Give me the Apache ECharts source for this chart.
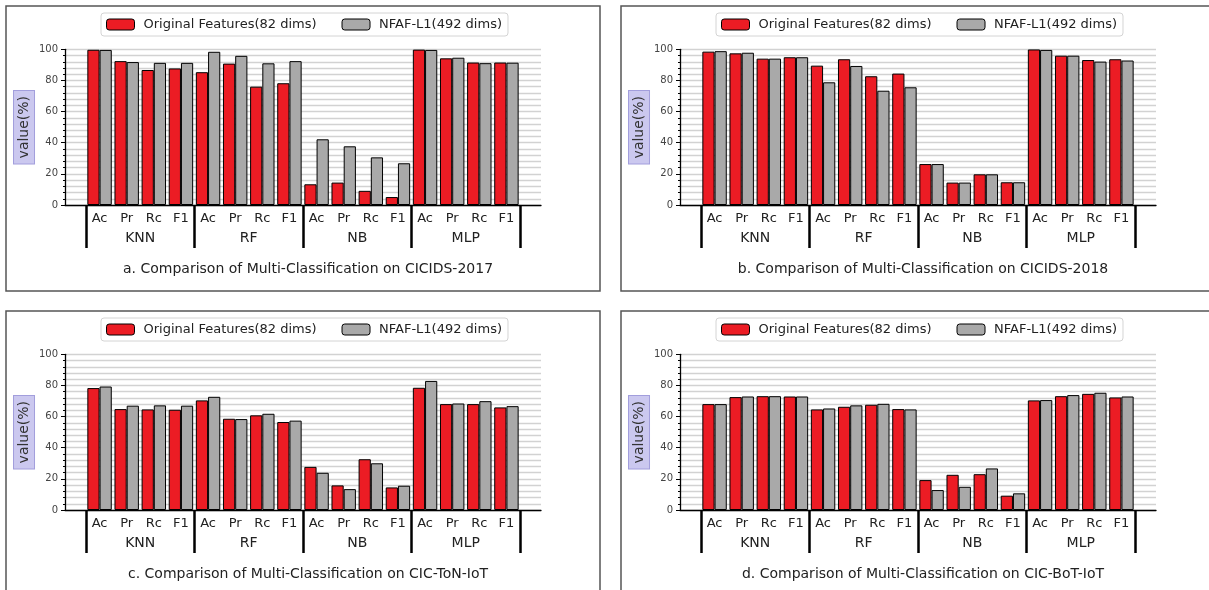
<!DOCTYPE html>
<html>
<head>
<meta charset="utf-8">
<script src="https://cdn.jsdelivr.net/npm/echarts@6/dist/echarts.min.js"></script>
<style>
	html, body { margin: 0; padding: 0; background: #fff; }
	#chart { width: 1209px; height: 590px; }
</style>
</head>
<body>
<div id="chart"></div>
<script>
var metrics = ['Ac', 'Pr', 'Rc', 'F1'];
var classifiers = ['KNN', 'RF', 'NB', 'MLP'];
var seriesNames = ['Original Features(82 dims)', 'NFAF-L1(492 dims)'];

// values per classifier in order KNN, RF, NB, MLP x (Ac, Pr, Rc, F1)
var cicids2017Orig = [99.7, 92.4, 86.7, 87.7, 85.3, 90.8, 76.0, 78.2, 13.3, 14.4, 9.1, 5.1, 99.8, 94.2, 91.5, 91.5];
var cicids2017Nfaf = [99.6, 91.8, 91.3, 91.3, 98.4, 95.8, 91.0, 92.4, 42.2, 37.7, 30.6, 26.8, 99.6, 94.6, 91.1, 91.4];
var cicids2018Orig = [98.5, 97.4, 94.0, 94.9, 89.5, 93.6, 82.7, 84.4, 26.3, 14.4, 19.7, 14.6, 99.9, 95.9, 93.1, 93.6];
var cicids2018Nfaf = [98.8, 97.8, 94.0, 94.9, 78.8, 89.3, 73.4, 75.6, 26.3, 14.4, 19.7, 14.6, 99.6, 95.9, 92.1, 92.8];
var tonIotOrig = [78.3, 64.8, 64.6, 64.4, 70.4, 58.6, 60.8, 56.5, 27.7, 15.8, 32.6, 14.5, 78.5, 68.0, 68.0, 65.9];
var tonIotNfaf = [79.3, 67.0, 67.2, 67.0, 72.7, 58.4, 61.8, 57.4, 23.9, 13.4, 30.0, 15.6, 82.9, 68.4, 69.9, 66.7];
var botIotOrig = [68.0, 72.5, 73.1, 72.9, 64.6, 66.3, 67.6, 64.8, 19.2, 22.6, 23.0, 9.2, 70.4, 73.1, 74.6, 72.3];
var botIotNfaf = [68.0, 72.9, 73.1, 72.9, 65.2, 67.2, 68.2, 64.6, 12.8, 14.9, 26.7, 10.7, 70.6, 73.8, 75.3, 72.9];

var panelTitles = [
	'a. Comparison of Multi-Classification on CICIDS-2017',
	'b. Comparison of Multi-Classification on CICIDS-2018',
	'c. Comparison of Multi-Classification on CIC-ToN-IoT',
	'd. Comparison of Multi-Classification on CIC-BoT-IoT'
];

var panels = [
	{ ox: 0,   oy: 0,   orig: cicids2017Orig, nfaf: cicids2017Nfaf },
	{ ox: 615, oy: 0,   orig: cicids2018Orig, nfaf: cicids2018Nfaf },
	{ ox: 0,   oy: 305, orig: tonIotOrig,     nfaf: tonIotNfaf },
	{ ox: 615, oy: 305, orig: botIotOrig,     nfaf: botIotNfaf }
];

var catLabels = [];
classifiers.forEach(function () {
	metrics.forEach(function (m) { catLabels.push(m); });
});

var font = 'DejaVu Sans';
var grids = [], xAxes = [], yAxes = [], series = [], legends = [], titles = [], frames = [];

panels.forEach(function (p, i) {
	var top = 49.3 + p.oy,
		height = 155.7;

	// frame around each subplot
	frames.push({
		type: 'rect',
		shape: { x: 6 + p.ox, y: 6 + p.oy, width: 594, height: 285 },
		style: { fill: 'none', stroke: '#555', lineWidth: 1.5 },
		silent: true
	});

	// grid for the axis frame and gridlines
	grids.push({ left: 65 + p.ox, top: top, width: 476, height: height, outerBoundsMode: 'none', containLabel: false });
	// grid for bars
	grids.push({ left: 86 + p.ox, top: top, width: 434, height: height, outerBoundsMode: 'none', containLabel: false });

	xAxes.push({
		type: 'value', gridIndex: 2 * i, min: 0, max: 1,
		axisLine: { show: true, lineStyle: { color: '#000', width: 1.3 } },
		axisTick: { show: false }, axisLabel: { show: false }, splitLine: { show: false }
	});
	xAxes.push({
		type: 'category', gridIndex: 2 * i + 1, data: catLabels,
		axisLine: { show: false }, axisTick: { show: false },
		axisLabel: { margin: 7, fontSize: 13, color: '#222', fontFamily: font, interval: 0 }
	});
	xAxes.push({
		type: 'category', gridIndex: 2 * i + 1, data: classifiers, position: 'bottom',
		axisLine: { show: false },
		axisTick: { show: true, length: 43, lineStyle: { color: '#000', width: 2.5 } },
		axisLabel: { margin: 26, fontSize: 14, color: '#222', fontFamily: font, interval: 0 }
	});

	yAxes.push({
		type: 'value', gridIndex: 2 * i, min: 0, max: 100, interval: 20,
		name: 'value(%)', nameLocation: 'middle', nameGap: 30, nameRotate: 90,
		nameTextStyle: {
			fontSize: 14, color: '#333', fontFamily: font, lineHeight: 16,
			backgroundColor: '#cbc8ef', borderColor: '#a29edc', borderWidth: 1, padding: [2, 5]
		},
		axisLine: { show: true, lineStyle: { color: '#000', width: 1.3 } },
		axisTick: { show: true, length: 4, lineStyle: { color: '#000' } },
		minorTick: { show: true, splitNumber: 5, length: 2, lineStyle: { color: '#000' } },
		axisLabel: { fontSize: 10, color: '#444', fontFamily: font, margin: 7 },
		splitLine: { show: true, lineStyle: { color: '#d2d2d2', width: 1.3 } },
		minorSplitLine: { show: true, lineStyle: { color: '#d2d2d2', width: 1.3 } }
	});
	yAxes.push({ type: 'value', gridIndex: 2 * i + 1, min: 0, max: 100, show: false, splitLine: { show: false } });

	[p.orig, p.nfaf].forEach(function (vals, k) {
		series.push({
			type: 'bar',
			name: seriesNames[k],
			xAxisIndex: 3 * i + 1,
			yAxisIndex: 2 * i + 1,
			data: vals,
			barGap: '0%',
			barCategoryGap: '10%',
			itemStyle: { color: k === 0 ? '#ec1c24' : '#a9a9a9', borderColor: '#000', borderWidth: 1 },
			emphasis: { disabled: true }
		});
	});

	legends.push({
		left: 101 + p.ox, top: 13 + p.oy,
		orient: 'horizontal',
		itemWidth: 28, itemHeight: 11, itemGap: 25,
		padding: [5, 6, 5, 5],
		backgroundColor: '#fff', borderColor: '#d4d4d4', borderWidth: 1, borderRadius: 3,
		textStyle: { fontSize: 13, color: '#222', fontFamily: font, padding: [0, 0, 0, 4] },
		selectedMode: false,
		data: [
			{ name: seriesNames[0], itemStyle: { color: '#ec1c24', borderColor: '#000', borderWidth: 1 } },
			{ name: seriesNames[1], itemStyle: { color: '#a9a9a9', borderColor: '#000', borderWidth: 1 } }
		]
	});

	titles.push({
		text: panelTitles[i],
		left: 303 + p.ox, top: 257 + p.oy, textAlign: 'center',
		textStyle: { fontSize: 14, fontWeight: 'normal', color: '#222', fontFamily: font }
	});
});

var myChart = echarts.init(document.getElementById('chart'), null, { renderer: 'canvas' });
myChart.setOption({
	animation: false,
	backgroundColor: '#fff',
	textStyle: { fontFamily: font },
	title: titles,
	legend: legends,
	grid: grids,
	xAxis: xAxes,
	yAxis: yAxes,
	series: series,
	graphic: { elements: frames }
});
</script>
</body>
</html>
